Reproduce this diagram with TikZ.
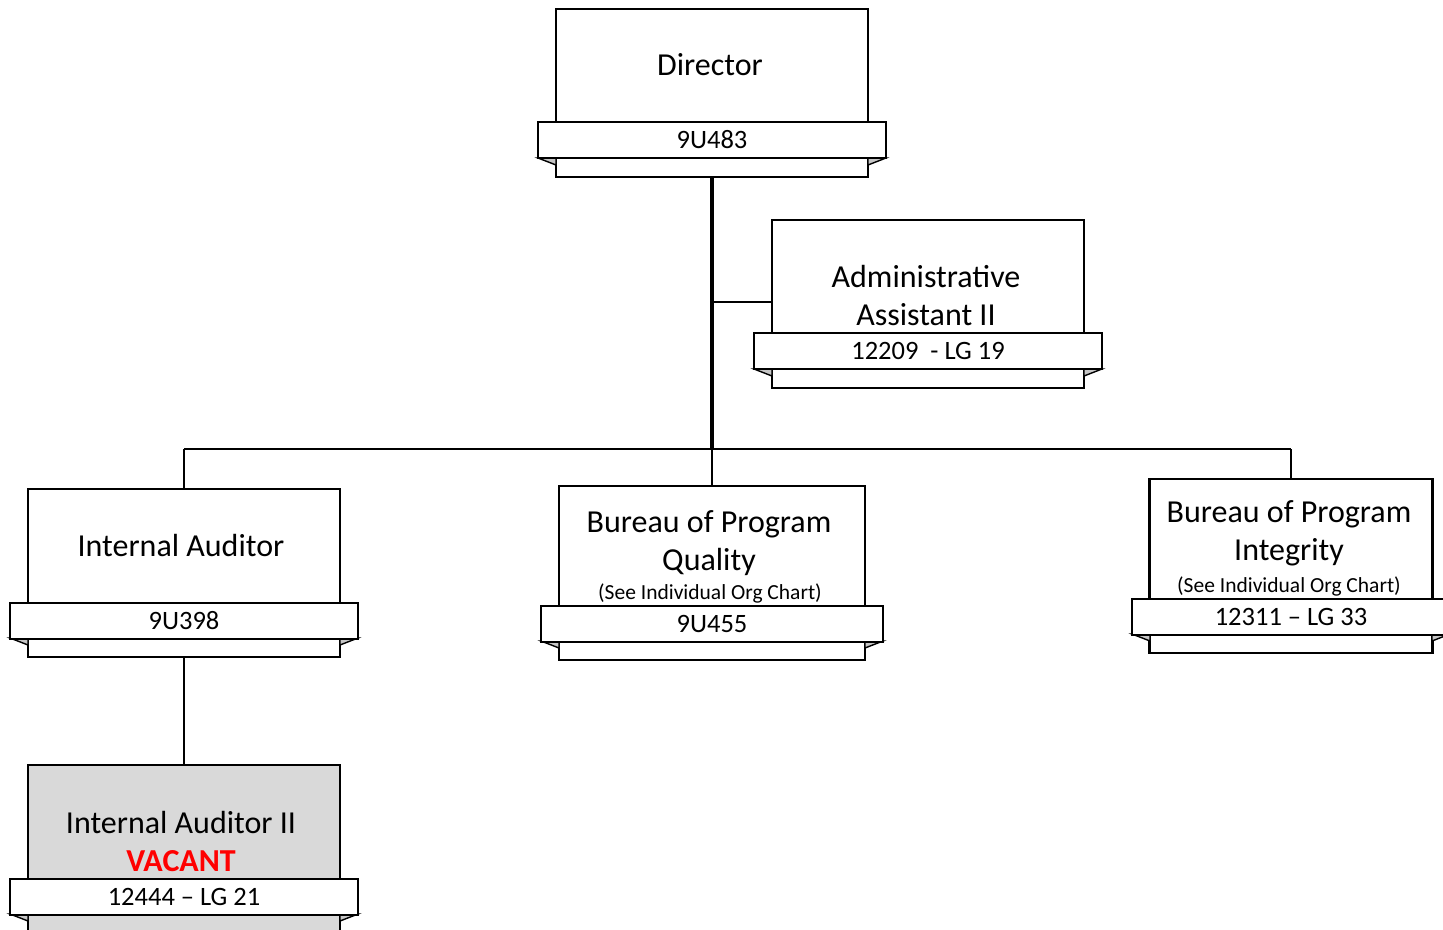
\documentclass[tikz,border=0pt]{standalone}
\usepackage{fontspec}
\setmainfont{Carlito}
\begin{document}
\begin{tikzpicture}[x=1pt,y=-1pt,
  posbox/.style={draw=black,line width=2.4pt,fill=white,minimum width=#1,inner sep=0pt,anchor=north},
  ribbon/.style={draw=black,line width=2.4pt,fill=white,minimum width=#1,minimum height=36pt,inner sep=0pt,font=\fontsize{26.5}{28}\selectfont},
  titletxt/.style={align=center,inner sep=0pt,font=\fontsize{32}{38}\selectfont},
  smalltxt/.style={inner sep=0pt,font=\fontsize{21.5}{24}\selectfont},
  fold/.style={draw=black,line width=1.4pt,fill=gray!45,line join=miter},
  conn/.style={draw=black,line width=2.4pt},
  trunk/.style={draw=black,line width=3.2pt}]
\useasboundingbox (0,0) rectangle (1443,929);
\fill[white] (0,0) rectangle (1443,929);

% ---------- Director ----------
\node[posbox=312pt,minimum height=168pt] (dir) at (712,8) {};
\draw[fold] (538,158) -- (556,165) -- (556,158) -- cycle;
\draw[fold] (886,158) -- (868,165) -- (868,158) -- cycle;
\node[ribbon=348pt] (dirR) at (712,140) {9U483};
\node[titletxt] (dirT) at (710,65) {Director};

% ---------- Administrative Assistant ----------
\node[posbox=312pt,minimum height=168pt] (adm) at (928,219) {};
\draw[fold] (754,369) -- (772,376) -- (772,369) -- cycle;
\draw[fold] (1102,369) -- (1084,376) -- (1084,369) -- cycle;
\node[ribbon=348pt] (admR) at (928,351) {12209\ \ - LG 19};
\node[titletxt] (admT) at (926,296) {Administrative\\Assistant II};

% ---------- Internal Auditor ----------
\node[posbox=312pt,minimum height=168pt] (ia) at (184,488) {};
\draw[fold] (10,638) -- (28,645) -- (28,638) -- cycle;
\draw[fold] (358,638) -- (340,645) -- (340,638) -- cycle;
\node[ribbon=348pt] (iaR) at (184,621) {9U398};
\node[titletxt] (iaT) at (181,546) {Internal Auditor};

% ---------- Bureau of Program Quality ----------
\node[posbox=306pt,minimum height=174pt] (bq) at (712,485) {};
\draw[fold] (541,641) -- (559,648) -- (559,641) -- cycle;
\draw[fold] (883,641) -- (865,648) -- (865,641) -- cycle;
\node[ribbon=342pt] (bqR) at (712,624) {9U455};
\node[titletxt] (bqT) at (709,543) {Bureau of Program\\Quality};
\node[smalltxt] (bqS) at (710,593) {(See Individual Org Chart)};

% ---------- Bureau of Program Integrity ----------
\node[posbox=283pt,minimum height=174pt] (bi) at (1291,478) {};
\draw[fold] (1132,634) -- (1150,641) -- (1150,634) -- cycle;
\draw[fold] (1450,634) -- (1432,641) -- (1432,634) -- cycle;
\node[ribbon=318pt] (biR) at (1291,617) {12311 -- LG 33};
\node[titletxt] (biT) at (1289,533) {Bureau of Program\\Integrity};
\node[smalltxt] (biS) at (1289,586) {(See Individual Org Chart)};

% ---------- Internal Auditor II ----------
\node[posbox=312pt,minimum height=200pt,fill=gray!30] (ia2) at (184,764) {};
\draw[fold] (10,914) -- (28,921) -- (28,914) -- cycle;
\draw[fold] (358,914) -- (340,921) -- (340,914) -- cycle;
\node[ribbon=348pt] (ia2R) at (184,897) {12444 -- LG 21};
\node[titletxt] (ia2T) at (181,841) {Internal Auditor II\\{\color{red}\bfseries VACANT}};

% ---------- connectors ----------
\coordinate (jA) at (712,302);
\coordinate (jB) at (712,449);
\draw[trunk] (dir.south) -- (jB);
\draw[conn] (jA) -- (jA -| adm.west);
\draw[conn] (jB -| ia.north) -- (jB -| bi.north);
\draw[conn] (jB -| ia.north) -- (ia.north);
\draw[conn] (jB) -- (bq.north);
\draw[conn] (jB -| bi.north) -- (bi.north);
\draw[conn] (ia.south) -- (ia2.north);
\end{tikzpicture}
\end{document}
